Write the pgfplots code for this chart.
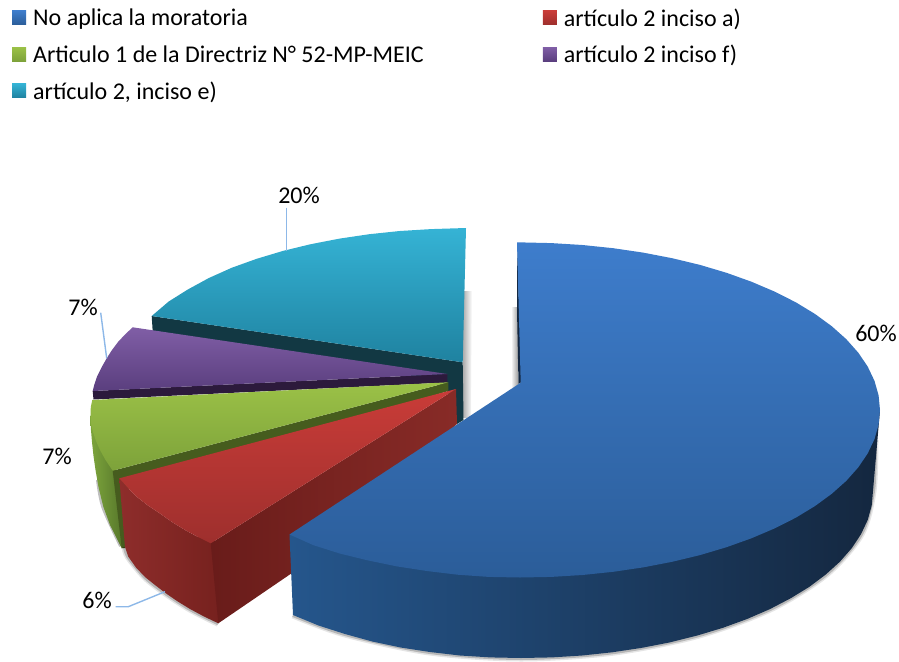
\documentclass[border=0pt]{standalone}
\usepackage{fontspec}
\setmainfont{Carlito}
\usepackage{pgfplots}
\pgfplotsset{compat=1.18}
\definecolor{leader}{HTML}{8DB8E8}
\definecolor{blueT}{HTML}{3E7DCC}
\definecolor{blueB}{HTML}{2B5D99}
\definecolor{redT}{HTML}{C93C38}
\definecolor{redB}{HTML}{9E2F2D}
\definecolor{greenT}{HTML}{9BC147}
\definecolor{greenB}{HTML}{7DA23A}
\definecolor{purpleT}{HTML}{805EA6}
\definecolor{purpleB}{HTML}{5A3E7E}
\definecolor{cyanT}{HTML}{35B3D5}
\definecolor{cyanB}{HTML}{1F82A0}

\begin{document}
\begin{tikzpicture}
\begin{axis}[
    scale only axis, width=899pt, height=660pt,
    xmin=0, xmax=899, ymin=0, ymax=660, y dir=reverse,
    hide axis, clip=false,
    legend columns=2,
    legend cell align=left,
    legend image code/.code={\path[#1] (0pt,-6.5pt) rectangle (14pt,7.5pt);},
    legend style={at={(axis cs:12,6.5)}, anchor=north west, draw=none, fill=none,
        font=\fontsize{24}{28}\selectfont, inner xsep=0pt, inner ysep=0pt,
        row sep=13.4pt,
        /tikz/every odd column/.append style={column sep=5pt},
        /tikz/every even column/.append style={column sep=117pt}},
    every axis plot/.append style={forget plot},
]
% keeps the page as large as the reference
\addplot[draw=none] coordinates {(0,0) (899,660)};

% legend
\addlegendimage{top color=blueT, bottom color=blueB, draw=none}
\addlegendentry{No aplica la moratoria}
\addlegendimage{top color=redT, bottom color=redB, draw=none}
\addlegendentry{artículo 2 inciso a)}
\addlegendimage{top color=greenT, bottom color=greenB, draw=none}
\addlegendentry{Articulo 1 de la Directriz N° 52-MP-MEIC}
\addlegendimage{top color=purpleT, bottom color=purpleB, draw=none}
\addlegendentry{artículo 2 inciso f)}
\addlegendimage{top color=cyanT, bottom color=cyanB, draw=none}
\addlegendentry{artículo 2, inciso e)}

% shadows
\addplot[draw=none, left color=black!32, right color=white] coordinates {(463,291) (472,291) (471,418) (463,418)};
\addplot[draw=none, left color=white, right color=black!38] coordinates {(511,307) (518,307) (518,387) (511,387)};

% cyan slice
\addplot[draw=none, fill={rgb,255:red,18;green,56;blue,67}] coordinates {(151.7,316) (462.7,362.3) (463.5,420) (457,424) (445,386) (360,364) (152.7,331.5)};
\addplot[draw=none, top color=cyanT, bottom color=cyanB] coordinates {
  (466,228) (431,229.1) (399.8,231) (369.3,234.2) (339.6,238.6) (310.7,244.2) (283,250.9) (256.7,258.8)
  (231.9,267.7) (208.9,278) (187.8,289.5) (168.7,301.5) (151.7,316) (462.7,362.3)};

% purple slice
\addplot[draw=none, fill={rgb,255:red,44;green,26;blue,60}] coordinates {(92.7,391) (447.3,374) (447.3,382.5) (93.5,399.5)};
\addplot[draw=none, top color=purpleT, bottom color=purpleB] coordinates {
  (132.7,327.3) (125,334.5) (118,342) (112,350) (106.7,358.3) (101.5,367.5) (97,376.7) (94.5,384) (92.7,391) (447.3,374)};

% green slice
\addplot[smooth, draw=black, draw opacity=0.25, line width=4pt] coordinates {(98,480) (103.3,507) (121,546)};
\addplot[draw=none, left color={rgb,255:red,125;green,165;blue,60}, right color={rgb,255:red,85;green,117;blue,42}] coordinates {
  (90.5,415) (90.8,428) (92,442) (93.5,456) (95.5,470) (98.5,487) (103.3,506.7) (110,525) (121.7,548.3) (124,500) (116,468)};
\addplot[draw=none, fill={rgb,255:red,70;green,92;blue,30}] coordinates {(112.7,470.7) (448.3,382.3) (448.3,391) (125,490) (125,548) (121.7,548.3)};
\addplot[draw=none, top color=greenT, bottom color=greenB] coordinates {
  (92.3,400) (90.8,407) (90.5,415) (91,424) (93,432) (96,441) (100,450) (105.5,460) (112.7,470.7) (448.3,382.3)};

% red slice
\addplot[smooth, draw=black, draw opacity=0.1, line width=7pt] coordinates {(125,547) (128.3,556.7) (145,577) (165,592.7) (190,609) (218.3,623.3)};
\addplot[smooth, draw=black, draw opacity=0.2, line width=4pt] coordinates {(125,547) (128.3,556.7) (145,577) (165,592.7) (190,609) (218.3,623.3)};
\addplot[draw=none, left color={rgb,255:red,142;green,45;blue,43}, right color={rgb,255:red,118;green,33;blue,30}] coordinates {
  (119.3,478.3) (128,488) (137,497) (148,505.5) (160,513.5) (172,522) (185,530) (197,536.5) (214,541)
  (220,621) (218.3,623.3) (204,616.5) (190,609) (177,601) (165,592.7) (155,585) (145,577) (136,567.5) (128.3,556.7) (125,547)};
\addplot[draw=none, left color={rgb,255:red,105;green,28;blue,26}, right color={rgb,255:red,136;green,43;blue,39}] coordinates {
  (210.7,543.3) (456,389) (457,424) (440,440) (292,573) (218.3,623.3)};
\addplot[draw=none, top color=redT, bottom color=redB] coordinates {
  (119.3,478.3) (128,488) (137,497) (148,505.5) (160,513.5) (172,522) (185,530) (197,536.5) (210.7,543.3) (456,389)};

% blue slice
\addplot[draw=none, fill={rgb,255:red,20;green,40;blue,66}] coordinates {(517,243) (521.5,382) (518.5,384) (517,310)};
\addplot[smooth, draw=black, draw opacity=0.1, line width=7pt] coordinates {
  (875,440) (873,491) (861,534.2) (825.8,574.5) (769.9,609.1) (697,635.6) (612.1,652.3) (521,658) (429.9,652) (345,634) (293,615)};
\addplot[smooth, draw=black, draw opacity=0.2, line width=4pt] coordinates {
  (875,440) (873,491) (861,534.2) (825.8,574.5) (769.9,609.1) (697,635.6) (612.1,652.3) (521,658) (429.9,652) (345,634) (293,615)};
\addplot[draw=none, left color={rgb,255:red,37;green,86;blue,140}, middle color={rgb,255:red,21;green,41;blue,70}, right color={rgb,255:red,20;green,39;blue,63}] coordinates {
  (880,410) (873,491) (871.7,505.6) (867.7,520) (861,534.2) (851.8,548.1) (840,561.6) (825.8,574.5) (809.4,586.8)
  (790.6,598.3) (769.9,609.1) (747.3,618.9) (722.9,627.8) (697,635.6) (669.8,642.4) (641.4,647.9) (612.1,652.3)
  (582.1,655.5) (551.7,657.4) (521,658) (490.3,657.4) (459.9,655.5) (429.9,652) (400.6,647.5) (372.2,641.5)
  (345,634) (318.5,625.5) (293,615) (289.5,534.5) (520,420)};
\addplot[draw=none, top color=blueT, bottom color=blueB] coordinates {
  (517,242.3) (551.4,243.1) (582.5,245) (613.2,248.2) (643.1,252.6) (672.1,258.2) (700,264.9) (726.5,272.8)
  (751.4,281.7) (774.6,291.6) (795.8,302.3) (814.9,313.9) (831.8,326.25) (846.3,339.2) (858.3,352.7) (867.7,366.6)
  (874.5,380.9) (878.6,395.4) (880,410) (878.6,424.6) (874.5,439.1) (867.7,453.4) (858.3,467.3) (846.3,480.8)
  (831.8,493.75) (814.9,506.1) (795.8,517.7) (774.6,528.4) (751.4,538.3) (726.5,547.2) (700,555.1) (672.1,561.8)
  (643.1,567.4) (613.2,571.8) (582.5,575) (551.4,576.9) (520,577.5) (488.6,576.9) (457.5,574.7) (426.8,571)
  (396.9,566.4) (367.9,560.4) (340,553.6) (313.5,545.2) (289.5,534.5) (520.7,382.7)};

% leader lines
\addplot[leader, line width=1.4pt] coordinates {(286.7,207.7) (286.7,251)};
\addplot[leader, line width=1.4pt] coordinates {(100.7,312.7) (106.7,358.3)};
\addplot[leader, line width=1.4pt] coordinates {(115.7,606.7) (128.3,606.7) (165,591.7)};

% percentages
\node[inner sep=0pt, font=\fontsize{24}{28}\selectfont] at (axis cs:876,333) {60\%};
\node[inner sep=0pt, font=\fontsize{24}{28}\selectfont] at (axis cs:299,195) {20\%};
\node[inner sep=0pt, font=\fontsize{24}{28}\selectfont] at (axis cs:83,307) {7\%};
\node[inner sep=0pt, font=\fontsize{24}{28}\selectfont] at (axis cs:57,456) {7\%};
\node[inner sep=0pt, font=\fontsize{24}{28}\selectfont] at (axis cs:97,600) {6\%};
\end{axis}
\end{tikzpicture}
\end{document}
